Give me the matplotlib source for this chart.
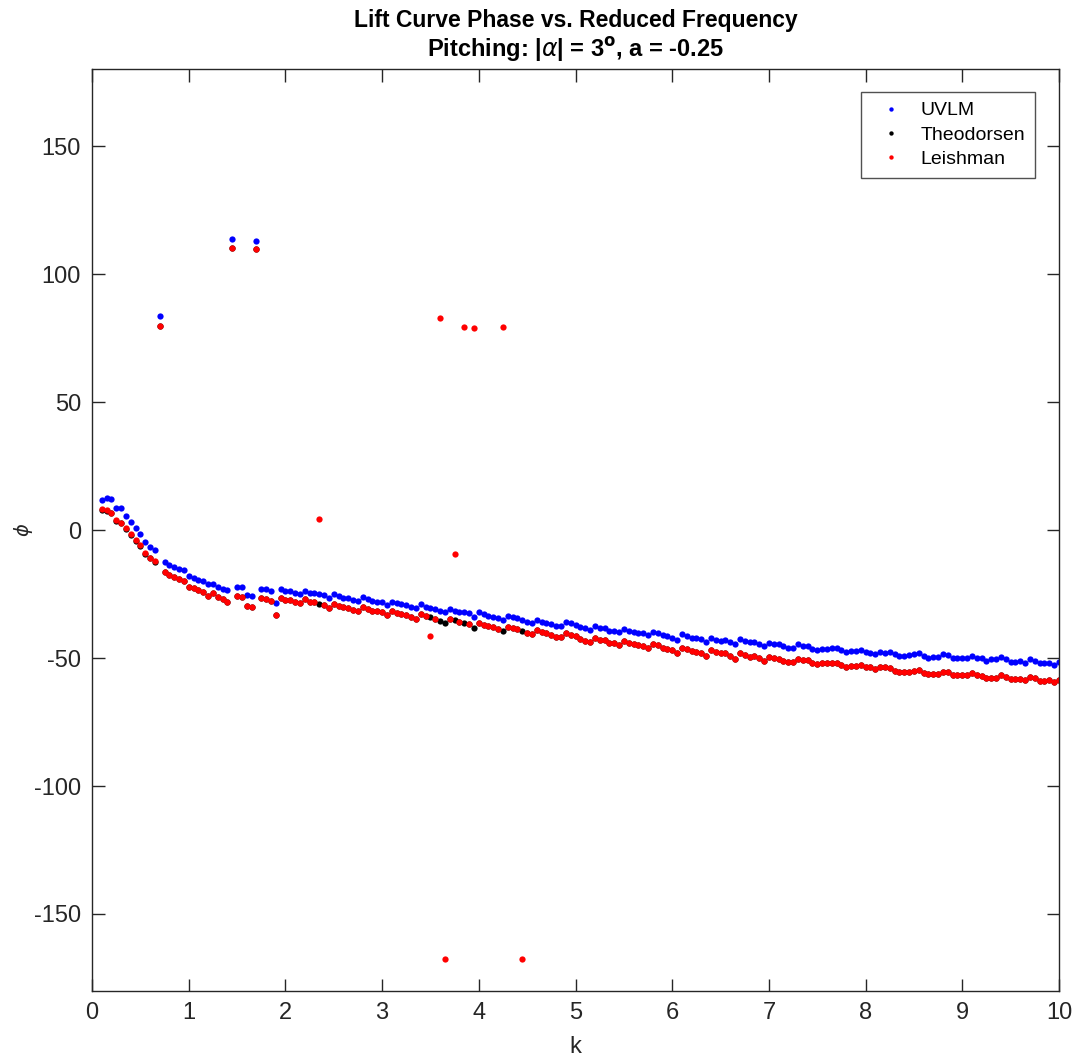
import matplotlib
matplotlib.use("Agg")
import matplotlib.pyplot as plt

plt.rcParams['font.family'] = ['Liberation Sans', 'DejaVu Sans']
plt.rcParams['mathtext.fontset'] = 'dejavusans'
plt.rcParams['axes.unicode_minus'] = False

# Reduced frequency k
k = [
    0.10, 0.15, 0.20, 0.25, 0.30, 0.35, 0.40, 0.45, 0.50, 0.55, 0.60, 0.65, 0.70, 0.75, 0.80, 0.85, 0.90, 0.95, 1.00, 1.05,
    1.10, 1.15, 1.20, 1.25, 1.30, 1.35, 1.40, 1.45, 1.50, 1.55, 1.60, 1.65, 1.70, 1.75, 1.80, 1.85, 1.90, 1.95, 2.00, 2.05,
    2.10, 2.15, 2.20, 2.25, 2.30, 2.35, 2.40, 2.45, 2.50, 2.55, 2.60, 2.65, 2.70, 2.75, 2.80, 2.85, 2.90, 2.95, 3.00, 3.05,
    3.10, 3.15, 3.20, 3.25, 3.30, 3.35, 3.40, 3.45, 3.50, 3.55, 3.60, 3.65, 3.70, 3.75, 3.80, 3.85, 3.90, 3.95, 4.00, 4.05,
    4.10, 4.15, 4.20, 4.25, 4.30, 4.35, 4.40, 4.45, 4.50, 4.55, 4.60, 4.65, 4.70, 4.75, 4.80, 4.85, 4.90, 4.95, 5.00, 5.05,
    5.10, 5.15, 5.20, 5.25, 5.30, 5.35, 5.40, 5.45, 5.50, 5.55, 5.60, 5.65, 5.70, 5.75, 5.80, 5.85, 5.90, 5.95, 6.00, 6.05,
    6.10, 6.15, 6.20, 6.25, 6.30, 6.35, 6.40, 6.45, 6.50, 6.55, 6.60, 6.65, 6.70, 6.75, 6.80, 6.85, 6.90, 6.95, 7.00, 7.05,
    7.10, 7.15, 7.20, 7.25, 7.30, 7.35, 7.40, 7.45, 7.50, 7.55, 7.60, 7.65, 7.70, 7.75, 7.80, 7.85, 7.90, 7.95, 8.00, 8.05,
    8.10, 8.15, 8.20, 8.25, 8.30, 8.35, 8.40, 8.45, 8.50, 8.55, 8.60, 8.65, 8.70, 8.75, 8.80, 8.85, 8.90, 8.95, 9.00, 9.05,
    9.10, 9.15, 9.20, 9.25, 9.30, 9.35, 9.40, 9.45, 9.50, 9.55, 9.60, 9.65, 9.70, 9.75, 9.80, 9.85, 9.90, 9.95, 10.00,
]

# Lift phase (deg) - UVLM
phi_uvlm = [
    11.7, 12.6, 12.0, 8.5, 8.5, 5.5, 3.0, 0.7, -1.7, -4.8, -6.5, -7.9, 83.6, -12.6, -13.7, -14.6, -15.2, -15.8, -18.1, -18.9,
    -19.4, -19.9, -21.1, -21.0, -22.4, -23.0, -23.4, 113.5, -22.1, -22.1, -25.4, -25.6, 113.0, -23.0, -23.2, -23.7, -28.4, -23.2, -23.8, -24.0,
    -24.5, -24.9, -23.7, -24.5, -24.7, -25.1, -25.5, -26.4, -25.1, -25.8, -26.4, -26.6, -27.3, -27.6, -26.3, -27.1, -27.7, -28.0, -28.3, -29.4,
    -28.0, -28.6, -28.9, -29.4, -30.0, -30.4, -29.0, -29.9, -30.3, -30.9, -31.5, -32.2, -30.9, -31.5, -31.9, -32.2, -32.5, -33.8, -32.2, -33.0,
    -33.5, -33.8, -34.5, -35.1, -33.5, -34.1, -34.5, -35.1, -35.8, -36.5, -35.1, -35.8, -36.2, -36.7, -37.4, -37.4, -35.8, -36.5, -37.1, -37.8,
    -38.1, -39.1, -37.4, -38.1, -38.1, -39.4, -39.3, -39.9, -38.7, -39.4, -39.9, -40.3, -40.3, -41.0, -39.9, -40.1, -41.0, -41.6, -42.0, -42.9,
    -40.7, -41.6, -42.0, -42.3, -42.7, -43.9, -42.0, -42.9, -43.2, -42.9, -43.6, -44.4, -42.7, -43.4, -43.9, -43.6, -44.5, -45.3, -44.0, -44.7,
    -44.7, -45.3, -46.0, -46.0, -44.7, -45.2, -45.2, -46.5, -46.9, -46.6, -46.5, -46.2, -46.2, -46.9, -47.8, -47.3, -47.1, -46.9, -47.8, -47.9,
    -48.4, -47.8, -47.9, -47.5, -48.4, -49.2, -49.1, -48.8, -48.6, -48.2, -49.1, -49.9, -49.5, -49.5, -48.6, -48.8, -50.1, -49.9, -49.9, -49.9,
    -49.1, -49.9, -50.1, -51.0, -50.5, -50.5, -49.5, -50.4, -51.4, -51.4, -51.2, -52.1, -50.4, -51.2, -52.1, -52.1, -51.8, -52.7, -51.7,
]

# Lift phase (deg) - Theodorsen
phi_theodorsen = [
    7.9, 7.5, 6.6, 3.7, 2.6, 0.3, -2.1, -4.4, -6.4, -9.4, -11.1, -12.4, 79.8, -16.5, -17.6, -18.2, -19.1, -19.9, -22.1, -22.8,
    -23.4, -24.1, -25.8, -24.7, -26.3, -27.1, -28.0, 110.0, -25.8, -26.0, -29.7, -30.2, 109.6, -26.7, -27.0, -27.7, -33.2, -26.6, -27.3, -27.5,
    -28.0, -28.6, -27.0, -28.0, -28.3, -28.9, -29.3, -30.3, -28.9, -29.6, -29.9, -30.3, -31.3, -31.6, -29.9, -30.7, -31.5, -31.8, -32.0, -33.1,
    -31.6, -32.3, -32.7, -33.2, -34.1, -34.6, -32.8, -33.6, -34.1, -34.9, -35.5, -36.2, -34.8, -35.2, -35.8, -36.2, -36.8, -38.2, -36.2, -37.1,
    -37.5, -38.0, -38.7, -39.4, -37.8, -38.3, -38.7, -39.4, -40.1, -40.8, -39.1, -39.7, -40.4, -41.0, -41.7, -41.9, -40.1, -40.9, -41.5, -42.4,
    -43.2, -43.9, -42.3, -42.9, -42.9, -44.3, -44.0, -44.9, -43.4, -44.0, -44.5, -44.9, -45.2, -46.2, -44.7, -44.9, -45.9, -46.5, -46.9, -47.9,
    -45.9, -46.6, -47.1, -47.5, -47.9, -49.2, -46.9, -47.8, -48.2, -47.9, -49.3, -50.4, -48.2, -48.8, -49.5, -49.2, -49.9, -51.0, -49.5, -50.1,
    -50.4, -51.0, -51.7, -51.4, -50.4, -50.8, -50.8, -51.8, -52.3, -52.1, -52.1, -51.8, -51.8, -52.7, -53.4, -53.0, -53.0, -52.7, -53.4, -53.6,
    -54.3, -53.6, -53.6, -54.0, -54.9, -55.3, -55.6, -55.3, -54.9, -54.7, -55.7, -56.4, -56.4, -56.3, -55.3, -55.6, -56.6, -56.6, -56.6, -56.6,
    -56.0, -56.6, -57.0, -57.7, -57.7, -57.7, -56.6, -57.3, -58.2, -58.3, -58.3, -58.6, -57.3, -57.9, -58.9, -59.0, -58.6, -59.5, -58.6,
]

# Lift phase (deg) - Leishman
phi_leishman = [
    8.1, 7.8, 6.8, 3.9, 2.9, 0.6, -1.7, -3.9, -5.9, -9.1, -10.8, -12.1, 79.8, -16.5, -17.6, -18.2, -19.1, -19.9, -22.1, -22.8,
    -23.4, -24.1, -25.8, -24.7, -26.3, -27.1, -28.0, 110.0, -25.8, -26.0, -29.7, -30.2, 109.6, -26.7, -27.0, -27.7, -33.2, -26.6, -27.3, -27.5,
    -28.0, -28.6, -27.0, -28.0, -28.3, 4.3, -29.3, -30.3, -28.9, -29.6, -29.9, -30.3, -31.3, -31.6, -29.9, -30.7, -31.5, -31.8, -32.0, -33.1,
    -31.6, -32.3, -32.7, -33.2, -34.1, -34.6, -32.8, -33.6, -41.3, -34.9, 82.8, -167.6, -34.8, -9.2, -35.8, 79.3, -36.8, 78.9, -36.2, -37.1,
    -37.5, -38.0, -38.7, 79.3, -37.8, -38.3, -38.7, -167.6, -40.1, -40.8, -39.1, -39.7, -40.4, -41.0, -41.7, -41.9, -40.1, -40.9, -41.5, -42.4,
    -43.2, -43.9, -42.3, -42.9, -42.9, -44.3, -44.0, -44.9, -43.4, -44.0, -44.5, -44.9, -45.2, -46.2, -44.7, -44.9, -45.9, -46.5, -46.9, -47.9,
    -45.9, -46.6, -47.1, -47.5, -47.9, -49.2, -46.9, -47.8, -48.2, -47.9, -49.3, -50.4, -48.2, -48.8, -49.5, -49.2, -49.9, -51.0, -49.5, -50.1,
    -50.4, -51.0, -51.7, -51.4, -50.4, -50.8, -50.8, -51.8, -52.3, -52.1, -52.1, -51.8, -51.8, -52.7, -53.4, -53.0, -53.0, -52.7, -53.4, -53.6,
    -54.3, -53.6, -53.6, -54.0, -54.9, -55.3, -55.6, -55.3, -54.9, -54.7, -55.7, -56.4, -56.4, -56.3, -55.3, -55.6, -56.6, -56.6, -56.6, -56.6,
    -56.0, -56.6, -57.0, -57.7, -57.7, -57.7, -56.6, -57.3, -58.2, -58.3, -58.3, -58.6, -57.3, -57.9, -58.9, -59.0, -58.6, -59.5, -58.6,
]

series_labels = ['UVLM', 'Theodorsen', 'Leishman']
series_colors = ['#0000ff', '#000000', '#ff0000']
x_ticks = [0, 1, 2, 3, 4, 5, 6, 7, 8, 9, 10]
y_ticks = [-150, -100, -50, 0, 50, 100, 150]

W, H = 1074, 1060
fig = plt.figure(figsize=(W / 100, H / 100), dpi=100)
left, right, top, bottom = 92, 1059, 69.2, 990.8
ax = fig.add_axes([left / W, 1 - bottom / H, (right - left) / W, (bottom - top) / H])

for y, lab, col in zip([phi_uvlm, phi_theodorsen, phi_leishman], series_labels, series_colors):
    ax.plot(k, y, linestyle='none', marker='o', ms=4.5, mew=0, color=col, label=lab)

ax.set_xlim(0, 10)
ax.set_ylim(-180, 180)
ax.set_xticks(x_ticks)
ax.set_yticks(y_ticks)
ax.tick_params(direction='in', top=True, right=True, length=9, width=1,
               labelsize=17, colors='#262626', pad=8)
for s in ax.spines.values():
    s.set_color('#262626')
    s.set_linewidth(1)

ax.set_xlabel('k', fontsize=17, color='#262626', labelpad=9)
ax.set_ylabel(r'$\phi$', fontsize=14, color='#262626')
ax.yaxis.set_label_coords((35 - left) / (right - left), 0.5)

cx = 0.5 * (left + right) / W
fig.text(cx, 1 - 21 / H, 'Lift Curve Phase vs. Reduced Frequency',
         ha='center', va='center', fontsize=16.5, fontweight='bold', color='#000000')
fig.text(cx, 1 - 50 / H, r'Pitching: |$\alpha$| = 3$^{\mathbf{o}}$, a = -0.25',
         ha='center', va='center', fontsize=17, fontweight='bold', color='#000000')

leg = ax.legend(loc='upper right',
                bbox_to_anchor=((1035 - left) / (right - left), (bottom - 92) / (bottom - top)),
                fontsize=14, frameon=True, fancybox=False, edgecolor='#262626',
                handlelength=2.0, handletextpad=0.55, borderpad=0.5, labelspacing=0.35,
                markerscale=0.7, borderaxespad=0)
leg.get_frame().set_linewidth(1)

fig.savefig('out.png', dpi=100)
